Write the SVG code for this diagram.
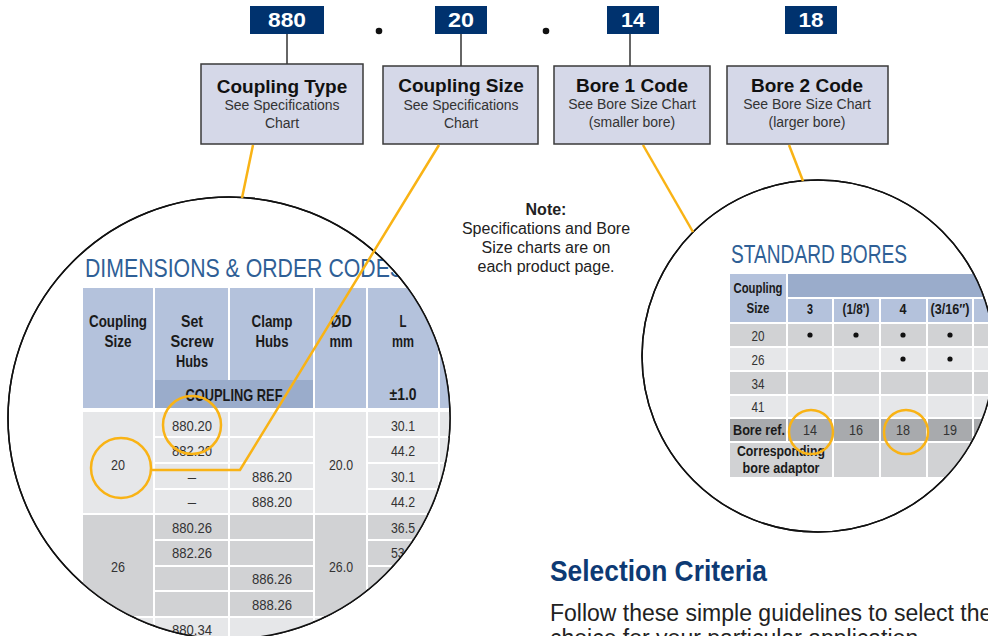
<svg xmlns="http://www.w3.org/2000/svg" width="988" height="636" viewBox="0 0 988 636">
<style>
text{font-family:"Liberation Sans",Arial,sans-serif}
.badge{fill:#00326e}
.badgeT{font-weight:bold;font-size:20px;fill:#fff;text-anchor:middle}
.box{fill:#d5d8e8;stroke:#3a3a3a;stroke-width:1.5}
.boxT{font-weight:bold;font-size:19px;fill:#111;text-anchor:middle}
.boxS{font-size:14px;fill:#333;text-anchor:middle}
.stem{stroke:#333;stroke-width:1.5}
.hl{fill:none;stroke:#f9b315;stroke-width:2.5}
.ring{fill:#fff;stroke:#111;stroke-width:1.5}
.hb{fill:#b4c2dc}.hd{fill:#9aaccb}.g1{fill:#e6e7e9}.g2{fill:#d1d2d4}.g3{fill:#a8aaad}
.th{font-weight:bold;font-size:17px;fill:#1a1a1a;text-anchor:middle}
.td{font-size:15px;fill:#333;text-anchor:middle}
.rth{font-weight:bold;font-size:15px;fill:#1a1a1a;text-anchor:middle}
.title{font-size:26px;fill:#2f5f96}
.note{font-size:16px;fill:#222;text-anchor:middle}
.dot{fill:#111}
</style>
<defs>
<clipPath id="clipL"><circle cx="229" cy="418" r="221"/></clipPath>
<clipPath id="clipR"><circle cx="818" cy="356" r="176"/></clipPath>
</defs>

<!-- badges -->
<g id="badge-880"><rect class="badge" x="250" y="6" width="74" height="28"/><text class="badgeT" x="287" y="27" textLength="38" lengthAdjust="spacingAndGlyphs">880</text></g>
<g id="badge-20"><rect class="badge" x="435" y="6" width="52" height="28"/><text class="badgeT" x="461" y="27" textLength="26" lengthAdjust="spacingAndGlyphs">20</text></g>
<g id="badge-14"><rect class="badge" x="607" y="6" width="52" height="28"/><text class="badgeT" x="633" y="27" textLength="24" lengthAdjust="spacingAndGlyphs">14</text></g>
<g id="badge-18"><rect class="badge" x="785" y="6" width="52" height="28"/><text class="badgeT" x="811" y="27" textLength="25" lengthAdjust="spacingAndGlyphs">18</text></g>
<g id="separators"><circle class="dot" cx="379" cy="31" r="3.3"/><circle class="dot" cx="546" cy="31" r="3.3"/></g>
<g id="stems"><line class="stem" x1="287" y1="34" x2="287" y2="64"/><line class="stem" x1="461" y1="34" x2="461" y2="66"/><line class="stem" x1="630" y1="34" x2="630" y2="66"/></g>

<!-- boxes -->
<g id="box-coupling-type"><rect class="box" x="201" y="64" width="162" height="80"/><text class="boxT" x="282" y="93">Coupling Type</text><text class="boxS" x="282" y="110">See Specifications</text><text class="boxS" x="282" y="128">Chart</text></g>
<g id="box-coupling-size"><rect class="box" x="383" y="66" width="155" height="78"/><text class="boxT" x="461" y="92">Coupling Size</text><text class="boxS" x="461" y="110">See Specifications</text><text class="boxS" x="461" y="128">Chart</text></g>
<g id="box-bore1"><rect class="box" x="554" y="66" width="156" height="78"/><text class="boxT" x="632" y="92">Bore 1 Code</text><text class="boxS" x="632" y="109">See Bore Size Chart</text><text class="boxS" x="632" y="127">(smaller bore)</text></g>
<g id="box-bore2"><rect class="box" x="727" y="66" width="161" height="78"/><text class="boxT" x="807" y="92">Bore 2 Code</text><text class="boxS" x="807" y="109">See Bore Size Chart</text><text class="boxS" x="807" y="127">(larger bore)</text></g>

<!-- note -->
<g id="note"><text class="note" x="546" y="215" font-weight="bold">Note:</text><text class="note" x="546" y="234">Specifications and Bore</text><text class="note" x="546" y="253">Size charts are on</text><text class="note" x="546" y="272">each product page.</text></g>

<!-- left magnifier -->
<g id="dimensions-table">
<circle class="ring" cx="229" cy="418" r="221"/>
<g clip-path="url(#clipL)">
<text class="title" x="85" y="277" textLength="319" lengthAdjust="spacingAndGlyphs">DIMENSIONS &amp; ORDER CODES</text>
<rect class="hb" x="83" y="288" width="70" height="120"/>
<rect class="hb" x="155" y="288" width="73" height="92"/>
<rect class="hb" x="230" y="288" width="83" height="92"/>
<rect class="hd" x="155" y="380" width="158" height="28"/>
<rect class="hb" x="315" y="288" width="51" height="120"/>
<rect class="hb" x="368" y="288" width="70" height="120"/>
<rect class="hb" x="440" y="288" width="60" height="120"/>
<text class="th" x="118" y="327" textLength="58" lengthAdjust="spacingAndGlyphs">Coupling</text>
<text class="th" x="118" y="347" textLength="27" lengthAdjust="spacingAndGlyphs">Size</text>
<text class="th" x="192" y="327" textLength="22" lengthAdjust="spacingAndGlyphs">Set</text>
<text class="th" x="192" y="347" textLength="43" lengthAdjust="spacingAndGlyphs">Screw</text>
<text class="th" x="192" y="367" textLength="32" lengthAdjust="spacingAndGlyphs">Hubs</text>
<text class="th" x="272" y="327" textLength="41" lengthAdjust="spacingAndGlyphs">Clamp</text>
<text class="th" x="272" y="347" textLength="33" lengthAdjust="spacingAndGlyphs">Hubs</text>
<text class="th" x="341" y="327" textLength="21" lengthAdjust="spacingAndGlyphs">ØD</text>
<text class="th" x="341" y="347" textLength="23" lengthAdjust="spacingAndGlyphs">mm</text>
<text class="th" x="403" y="327" textLength="7" lengthAdjust="spacingAndGlyphs">L</text>
<text class="th" x="403" y="347" textLength="22" lengthAdjust="spacingAndGlyphs">mm</text>
<text class="th" x="403" y="400" textLength="27" lengthAdjust="spacingAndGlyphs">±1.0</text>
<text class="th" x="234" y="401" textLength="97" lengthAdjust="spacingAndGlyphs">COUPLING REF</text>
<!-- group 20 -->
<rect class="g1" x="83" y="412" width="70" height="101"/>
<rect class="g1" x="315" y="412" width="51" height="101"/>
<rect class="g1" x="155" y="412" width="73" height="24"/><rect class="g1" x="230" y="412" width="83" height="24"/><rect class="g1" x="368" y="412" width="70" height="24"/><rect class="g1" x="440" y="412" width="60" height="24"/>
<rect class="g1" x="155" y="438" width="73" height="24"/><rect class="g1" x="230" y="438" width="83" height="24"/><rect class="g1" x="368" y="438" width="70" height="24"/><rect class="g1" x="440" y="438" width="60" height="24"/>
<rect class="g1" x="155" y="464" width="73" height="24"/><rect class="g1" x="230" y="464" width="83" height="24"/><rect class="g1" x="368" y="464" width="70" height="24"/><rect class="g1" x="440" y="464" width="60" height="24"/>
<rect class="g1" x="155" y="490" width="73" height="23"/><rect class="g1" x="230" y="490" width="83" height="23"/><rect class="g1" x="368" y="490" width="70" height="23"/><rect class="g1" x="440" y="490" width="60" height="23"/>
<!-- group 26 -->
<rect class="g2" x="83" y="515" width="70" height="101"/>
<rect class="g2" x="315" y="515" width="51" height="101"/>
<rect class="g2" x="155" y="515" width="73" height="24"/><rect class="g2" x="230" y="515" width="83" height="24"/><rect class="g2" x="368" y="515" width="70" height="24"/><rect class="g2" x="440" y="515" width="60" height="24"/>
<rect class="g2" x="155" y="541" width="73" height="24"/><rect class="g2" x="230" y="541" width="83" height="24"/><rect class="g2" x="368" y="541" width="70" height="24"/><rect class="g2" x="440" y="541" width="60" height="24"/>
<rect class="g2" x="155" y="567" width="73" height="23"/><rect class="g2" x="230" y="567" width="83" height="23"/><rect class="g2" x="368" y="567" width="70" height="23"/><rect class="g2" x="440" y="567" width="60" height="23"/>
<rect class="g2" x="155" y="592" width="73" height="24"/><rect class="g2" x="230" y="592" width="83" height="24"/><rect class="g2" x="368" y="592" width="70" height="24"/><rect class="g2" x="440" y="592" width="60" height="24"/>
<!-- group 34 -->
<rect class="g1" x="83" y="618" width="70" height="40"/><rect class="g1" x="155" y="618" width="73" height="40"/><rect class="g1" x="230" y="618" width="83" height="40"/><rect class="g1" x="315" y="618" width="51" height="40"/><rect class="g1" x="368" y="618" width="70" height="40"/>
<text class="td" x="118" y="470" textLength="14" lengthAdjust="spacingAndGlyphs">20</text>
<text class="td" x="341" y="470" textLength="24" lengthAdjust="spacingAndGlyphs">20.0</text>
<text class="td" x="192" y="431" textLength="40" lengthAdjust="spacingAndGlyphs">880.20</text>
<text class="td" x="192" y="456" textLength="40" lengthAdjust="spacingAndGlyphs">882.20</text>
<text class="td" x="192" y="482">–</text>
<text class="td" x="192" y="507">–</text>
<text class="td" x="272" y="482" textLength="40" lengthAdjust="spacingAndGlyphs">886.20</text>
<text class="td" x="272" y="507" textLength="40" lengthAdjust="spacingAndGlyphs">888.20</text>
<text class="td" x="403" y="431" textLength="24" lengthAdjust="spacingAndGlyphs">30.1</text>
<text class="td" x="403" y="456" textLength="24" lengthAdjust="spacingAndGlyphs">44.2</text>
<text class="td" x="403" y="482" textLength="24" lengthAdjust="spacingAndGlyphs">30.1</text>
<text class="td" x="403" y="507" textLength="24" lengthAdjust="spacingAndGlyphs">44.2</text>
<text class="td" x="118" y="572" textLength="14" lengthAdjust="spacingAndGlyphs">26</text>
<text class="td" x="341" y="572" textLength="24" lengthAdjust="spacingAndGlyphs">26.0</text>
<text class="td" x="192" y="533" textLength="40" lengthAdjust="spacingAndGlyphs">880.26</text>
<text class="td" x="192" y="558" textLength="40" lengthAdjust="spacingAndGlyphs">882.26</text>
<text class="td" x="272" y="584" textLength="40" lengthAdjust="spacingAndGlyphs">886.26</text>
<text class="td" x="272" y="610" textLength="40" lengthAdjust="spacingAndGlyphs">888.26</text>
<text class="td" x="192" y="635" textLength="40" lengthAdjust="spacingAndGlyphs">880.34</text>
<text class="td" x="403" y="533" textLength="24" lengthAdjust="spacingAndGlyphs">36.5</text>
<text class="td" x="403" y="558" textLength="24" lengthAdjust="spacingAndGlyphs">53.6</text>
</g>
<circle class="ring" cx="229" cy="418" r="221" fill="none" style="fill:none"/>
</g>

<!-- right magnifier -->
<g id="bores-table">
<circle class="ring" cx="818" cy="356" r="176"/>
<g clip-path="url(#clipR)">
<text class="title" x="731" y="263" font-size="24" textLength="176" lengthAdjust="spacingAndGlyphs">STANDARD BORES</text>
<rect class="hb" x="730" y="274" width="56" height="48"/>
<rect class="hd" x="788" y="274" width="260" height="23"/>
<rect class="hb" x="788" y="299" width="44" height="23"/><rect class="hb" x="834" y="299" width="45" height="23"/><rect class="hb" x="881" y="299" width="45" height="23"/><rect class="hb" x="928" y="299" width="44" height="23"/><rect class="hb" x="974" y="299" width="44" height="23"/>
<g class="g2"><rect x="730" y="324" width="56" height="22"/><rect x="788" y="324" width="44" height="22"/><rect x="834" y="324" width="45" height="22"/><rect x="881" y="324" width="45" height="22"/><rect x="928" y="324" width="44" height="22"/><rect x="974" y="324" width="44" height="22"/></g>
<g class="g1"><rect x="730" y="348" width="56" height="22"/><rect x="788" y="348" width="44" height="22"/><rect x="834" y="348" width="45" height="22"/><rect x="881" y="348" width="45" height="22"/><rect x="928" y="348" width="44" height="22"/><rect x="974" y="348" width="44" height="22"/></g>
<g class="g2"><rect x="730" y="372" width="56" height="22"/><rect x="788" y="372" width="44" height="22"/><rect x="834" y="372" width="45" height="22"/><rect x="881" y="372" width="45" height="22"/><rect x="928" y="372" width="44" height="22"/><rect x="974" y="372" width="44" height="22"/></g>
<g class="g1"><rect x="730" y="396" width="56" height="21"/><rect x="788" y="396" width="44" height="21"/><rect x="834" y="396" width="45" height="21"/><rect x="881" y="396" width="45" height="21"/><rect x="928" y="396" width="44" height="21"/><rect x="974" y="396" width="44" height="21"/></g>
<g class="g3"><rect x="730" y="419" width="56" height="22"/><rect x="788" y="419" width="44" height="22"/><rect x="834" y="419" width="45" height="22"/><rect x="881" y="419" width="45" height="22"/><rect x="928" y="419" width="44" height="22"/><rect x="974" y="419" width="44" height="22"/></g>
<g class="g2"><rect x="730" y="443" width="102" height="34"/><rect x="834" y="443" width="45" height="34"/><rect x="881" y="443" width="45" height="34"/><rect x="928" y="443" width="44" height="34"/><rect x="974" y="443" width="44" height="34"/></g>
<text class="rth" x="758" y="293" textLength="49" lengthAdjust="spacingAndGlyphs">Coupling</text>
<text class="rth" x="758" y="313" textLength="23" lengthAdjust="spacingAndGlyphs">Size</text>
<text class="rth" x="810" y="314" textLength="6" lengthAdjust="spacingAndGlyphs">3</text>
<text class="rth" x="856" y="314" textLength="27" lengthAdjust="spacingAndGlyphs">(1/8')</text>
<text class="rth" x="903" y="314" textLength="7" lengthAdjust="spacingAndGlyphs">4</text>
<text class="rth" x="950" y="314" textLength="39" lengthAdjust="spacingAndGlyphs">(3/16″)</text>
<circle class="dot" cx="810" cy="335" r="2.6"/><circle class="dot" cx="856" cy="335" r="2.6"/><circle class="dot" cx="903" cy="335" r="2.6"/><circle class="dot" cx="950" cy="335" r="2.6"/>
<circle class="dot" cx="903" cy="359" r="2.6"/><circle class="dot" cx="950" cy="359" r="2.6"/>
<text class="td" x="758" y="341" textLength="13" lengthAdjust="spacingAndGlyphs">20</text>
<text class="td" x="758" y="365" textLength="13" lengthAdjust="spacingAndGlyphs">26</text>
<text class="td" x="758" y="389" textLength="13" lengthAdjust="spacingAndGlyphs">34</text>
<text class="td" x="758" y="412" textLength="13" lengthAdjust="spacingAndGlyphs">41</text>
<text class="rth" x="759" y="435" textLength="52" lengthAdjust="spacingAndGlyphs">Bore ref.</text>
<text class="td" x="810" y="435" textLength="14" lengthAdjust="spacingAndGlyphs">14</text>
<text class="td" x="856" y="435" textLength="14" lengthAdjust="spacingAndGlyphs">16</text>
<text class="td" x="903" y="435" textLength="14" lengthAdjust="spacingAndGlyphs">18</text>
<text class="td" x="950" y="435" textLength="14" lengthAdjust="spacingAndGlyphs">19</text>
<text class="rth" x="781" y="456" textLength="88" lengthAdjust="spacingAndGlyphs">Corresponding</text>
<text class="rth" x="781" y="473" textLength="77" lengthAdjust="spacingAndGlyphs">bore adaptor</text>
</g>
<circle cx="818" cy="356" r="176" style="fill:none;stroke:#111;stroke-width:1.5"/>
</g>

<!-- connectors / highlights -->
<g id="connectors">
<line class="hl" x1="253" y1="145" x2="242" y2="198"/>
<polyline class="hl" points="439,145 240,470 151,470"/>
<line class="hl" x1="643" y1="145" x2="693" y2="232"/>
<line class="hl" x1="789" y1="145" x2="803" y2="181"/>
<circle class="hl" cx="192" cy="425" r="29"/>
<circle class="hl" cx="121" cy="468" r="30"/>
<circle class="hl" cx="811" cy="432" r="22"/>
<circle class="hl" cx="906" cy="432" r="22"/>
</g>

<g id="selection-criteria">
<text x="550" y="581" font-size="30" font-weight="bold" fill="#0d3a74" textLength="217" lengthAdjust="spacingAndGlyphs">Selection Criteria</text>
<text x="550" y="621" font-size="23" fill="#222">Follow these simple guidelines to select the</text>
<text x="550" y="646" font-size="23" fill="#222">choice for your particular application.</text>
</g>
</svg>
